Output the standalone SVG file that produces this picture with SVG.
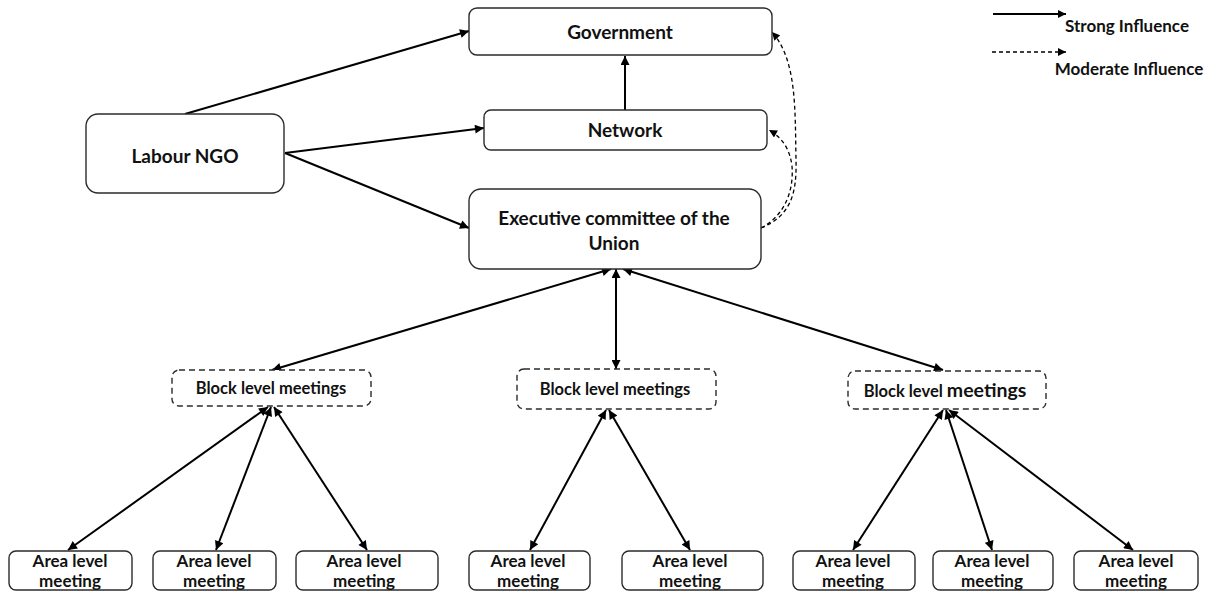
<svg xmlns="http://www.w3.org/2000/svg" width="1206" height="591" viewBox="0 0 1206 591">
<style>
.box{fill:#fff;stroke:#2b2b2b;stroke-width:1.4}
.dbox{fill:#fff;stroke:#2b2b2b;stroke-width:1.4;stroke-dasharray:6 4}
.t{font-family:Lato,"Open Sans","Liberation Sans",sans-serif;font-weight:bold;fill:#111;text-anchor:middle}
.big{font-size:19px}
.mid{font-size:17px}
.sm{font-size:16.5px}
.lg{font-size:17px}
.c{fill:none;stroke:#000;stroke-width:2}
.d{fill:none;stroke:#000;stroke-width:1.3;stroke-dasharray:4 3}
</style>
<defs>
<marker id="ah" viewBox="0 0 10 10" refX="10" refY="5" markerWidth="11" markerHeight="9" markerUnits="userSpaceOnUse" orient="auto-start-reverse">
<path d="M0,0 L10,5 L0,10 z" fill="#000"/>
</marker>
<marker id="ahs" viewBox="0 0 10 10" refX="10" refY="5" markerWidth="9" markerHeight="8" markerUnits="userSpaceOnUse" orient="auto">
<path d="M0,0 L10,5 L0,10 z" fill="#000"/>
</marker>
</defs>
<rect width="1206" height="591" fill="#fff"/>

<g id="connectors">
<line class="c" x1="185" y1="114" x2="469" y2="31" marker-end="url(#ah)"/>
<line class="c" x1="285" y1="153" x2="484" y2="128" marker-end="url(#ah)"/>
<line class="c" x1="285" y1="153" x2="469" y2="228" marker-end="url(#ah)"/>
<line class="c" x1="625" y1="110" x2="625" y2="56" marker-end="url(#ah)"/>
<path class="d" d="M761,228 C790,216 797,195 796,160 C795,110 797,60 772,32" marker-end="url(#ahs)"/>
<path class="d" d="M761,228 C784,216 794,192 792,166 C790,150 783,138 769,130" marker-end="url(#ahs)"/>
<line class="c" x1="611" y1="269" x2="272" y2="370" marker-start="url(#ah)" marker-end="url(#ah)"/>
<line class="c" x1="616" y1="269" x2="616" y2="369" marker-start="url(#ah)" marker-end="url(#ah)"/>
<line class="c" x1="623" y1="269" x2="943" y2="370" marker-start="url(#ah)" marker-end="url(#ah)"/>
<line class="c" x1="268" y1="407" x2="68" y2="550" marker-start="url(#ah)" marker-end="url(#ah)"/>
<line class="c" x1="271" y1="407" x2="216" y2="550" marker-start="url(#ah)" marker-end="url(#ah)"/>
<line class="c" x1="274" y1="407" x2="367" y2="550" marker-start="url(#ah)" marker-end="url(#ah)"/>
<line class="c" x1="606" y1="410" x2="530" y2="550" marker-start="url(#ah)" marker-end="url(#ah)"/>
<line class="c" x1="609" y1="410" x2="690" y2="550" marker-start="url(#ah)" marker-end="url(#ah)"/>
<line class="c" x1="943" y1="410" x2="853" y2="550" marker-start="url(#ah)" marker-end="url(#ah)"/>
<line class="c" x1="946" y1="410" x2="992" y2="550" marker-start="url(#ah)" marker-end="url(#ah)"/>
<line class="c" x1="949" y1="410" x2="1133" y2="550" marker-start="url(#ah)" marker-end="url(#ah)"/>
</g>

<g id="legend">
<line class="c" x1="993" y1="14" x2="1066" y2="14" stroke-width="1.6" marker-end="url(#ahs)"/>
<text class="t lg" x="1127" y="32">Strong Influence</text>
<line class="d" x1="992" y1="52" x2="1066" y2="52" marker-end="url(#ahs)"/>
<text class="t lg" x="1129" y="75">Moderate Influence</text>
</g>

<g id="government"><rect class="box" x="469" y="8" width="303" height="47" rx="8"/><text class="t big" x="620" y="39">Government</text></g>
<g id="network"><rect class="box" x="484" y="110" width="283" height="40" rx="7"/><text class="t big" x="625" y="137">Network</text></g>
<g id="labour-ngo"><rect class="box" x="86" y="114" width="198" height="79" rx="12"/><text class="t big" x="185" y="163">Labour NGO</text></g>
<g id="executive"><rect class="box" x="469" y="189" width="292" height="80" rx="12"/><text class="t big" x="614" y="225">Executive committee of the</text><text class="t big" x="614" y="250">Union</text></g>

<g id="block1"><rect class="dbox" x="172" y="370" width="199" height="36" rx="7"/><text class="t sm" x="271" y="394">Block level meetings</text></g>
<g id="block2"><rect class="dbox" x="517" y="369" width="199" height="40" rx="7"/><text class="t sm" x="615" y="395">Block level meetings</text></g>
<g id="block3"><rect class="dbox" x="848" y="371" width="198" height="38" rx="7"/><text class="t" x="945" y="397"><tspan class="sm">Block level </tspan><tspan style="font-size:19.5px">meetings</tspan></text></g>

<g id="area1"><rect class="box" x="9" y="551" width="123" height="39" rx="7"/><text class="t mid" x="70" y="567">Area level</text><text class="t mid" x="70" y="587">meeting</text></g>
<g id="area2"><rect class="box" x="153" y="551" width="123" height="39" rx="7"/><text class="t mid" x="214" y="567">Area level</text><text class="t mid" x="214" y="587">meeting</text></g>
<g id="area3"><rect class="box" x="296" y="551" width="142" height="39" rx="7"/><text class="t mid" x="364" y="567">Area level</text><text class="t mid" x="364" y="587">meeting</text></g>
<g id="area4"><rect class="box" x="469" y="551" width="121" height="39" rx="7"/><text class="t mid" x="528" y="567">Area level</text><text class="t mid" x="528" y="587">meeting</text></g>
<g id="area5"><rect class="box" x="622" y="551" width="141" height="39" rx="7"/><text class="t mid" x="690" y="567">Area level</text><text class="t mid" x="690" y="587">meeting</text></g>
<g id="area6"><rect class="box" x="793" y="551" width="122" height="39" rx="7"/><text class="t mid" x="853" y="567">Area level</text><text class="t mid" x="853" y="587">meeting</text></g>
<g id="area7"><rect class="box" x="933" y="551" width="120" height="39" rx="7"/><text class="t mid" x="992" y="567">Area level</text><text class="t mid" x="992" y="587">meeting</text></g>
<g id="area8"><rect class="box" x="1074" y="551" width="124" height="39" rx="7"/><text class="t mid" x="1136" y="567">Area level</text><text class="t mid" x="1136" y="587">meeting</text></g>
</svg>
